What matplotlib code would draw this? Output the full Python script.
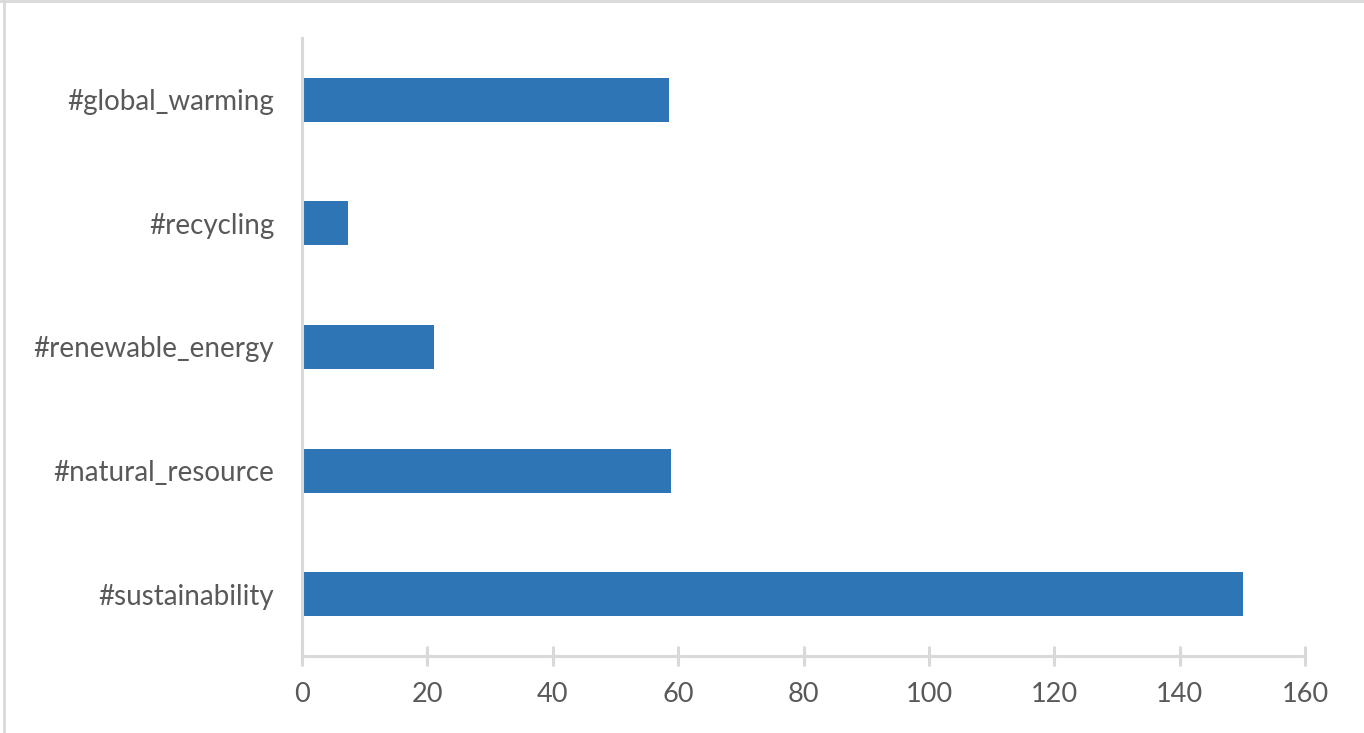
import matplotlib
matplotlib.use("Agg")
import matplotlib.pyplot as plt
from matplotlib.lines import Line2D

hashtags = ["#sustainability", "#natural_resource", "#renewable_energy", "#recycling", "#global_warming"]
counts = [150.1, 58.8, 21.0, 7.3, 58.6]
xticks = [0, 20, 40, 60, 80, 100, 120, 140, 160]

plt.rcParams["font.family"] = ["Lato", "DejaVu Sans"]

fig = plt.figure(figsize=(13.64, 7.33), dpi=100)
ax = fig.add_axes([302 / 1364, 77 / 733, 1003 / 1364, 618 / 733])

ax.barh(range(len(hashtags)), counts, height=0.356, color="#2E75B6")
ax.set_yticks(range(len(hashtags)))
ax.set_yticklabels(hashtags)
ax.set_xticks(xticks)
ax.set_xlim(0, 160)
ax.set_ylim(-0.5, 4.5)

for s in ["top", "right"]:
    ax.spines[s].set_visible(False)
for s in ["left", "bottom"]:
    ax.spines[s].set_color("#D9D9D9")
    ax.spines[s].set_linewidth(2.2)

ax.tick_params(axis="x", direction="inout", length=14, width=2.2, color="#D9D9D9",
               labelsize=19.5, labelcolor="#595959", pad=12)
ax.tick_params(axis="y", length=0, labelsize=20, labelcolor="#595959", pad=20)

# light frame on the top and left edge of the picture
fig.add_artist(Line2D([0, 1], [1 - 1 / 733, 1 - 1 / 733], transform=fig.transFigure, color="#D9D9D9", lw=2))
fig.add_artist(Line2D([4 / 1364, 4 / 1364], [0, 1], transform=fig.transFigure, color="#D9D9D9", lw=2))

fig.savefig("out.png", dpi=100)
